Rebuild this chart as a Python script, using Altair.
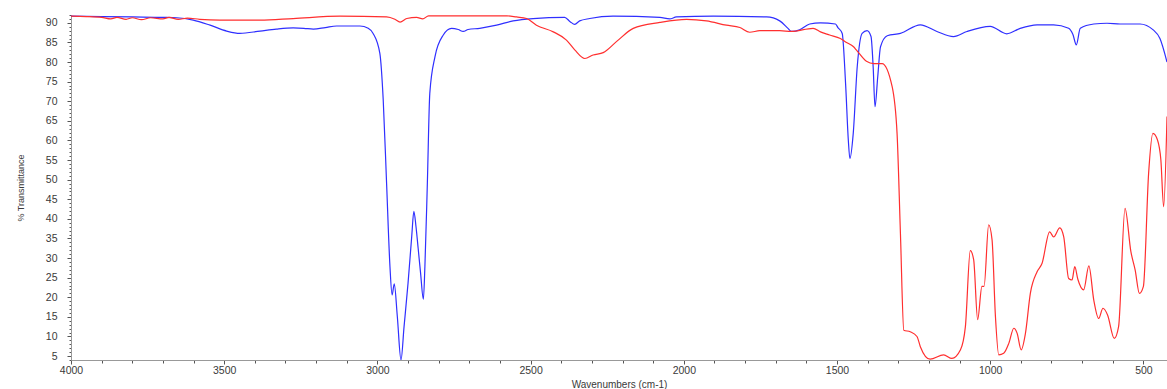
import altair as alt
import pandas as pd

# Blue spectrum (wavenumber cm-1, % transmittance)
blue_wn = [4000, 3900, 3800, 3700, 3655, 3601, 3546, 3492, 3449, 3383, 3330, 3275, 3240, 3209, 3170, 3133,
           3057, 3030, 3014, 2992, 2981, 2970, 2959, 2952, 2945, 2935, 2923, 2913, 2900, 2888, 2881, 2874,
           2867, 2859, 2850, 2845, 2837, 2829, 2812, 2785, 2758, 2736, 2720, 2704, 2666, 2611, 2557, 2492,
           2389, 2371, 2356, 2340, 2307, 2231, 2078, 2046, 2024, 1904, 1730, 1687, 1660, 1649, 1622, 1589,
           1554, 1505, 1497, 1483, 1472, 1463, 1458, 1447, 1434, 1418, 1402, 1389, 1382, 1376, 1367, 1358,
           1336, 1293, 1228, 1174, 1120, 1076, 1000, 946, 902, 847, 793, 744, 730, 719, 706, 662, 619, 576,
           511, 468, 446, 423]
blue_t = [91.7, 91.6, 91.5, 91.4, 91.3, 90.7, 89.4, 87.9, 87.3, 87.9, 88.4, 88.7, 88.6, 88.4, 88.8, 89.2,
          89.2, 88.6, 87.3, 82.2, 70.3, 49.0, 27.8, 20.6, 23.4, 15.1, 4.0, 12.5, 23.6, 35.5, 41.9, 38.0,
          32.5, 26.1, 19.5, 27.8, 49.0, 72.0, 81.4, 86.9, 88.6, 88.3, 87.8, 88.3, 88.6, 89.4, 90.5, 91.1,
          91.4, 90.3, 89.6, 90.5, 91.1, 91.7, 91.4, 91.0, 91.5, 91.7, 91.5, 90.5, 88.6, 87.8, 88.2, 89.7,
          90.0, 89.7, 88.8, 87.3, 74.5, 60.0, 55.4, 61.8, 78.8, 87.3, 88.0, 86.5, 78.8, 68.6, 76.3, 83.9,
          86.7, 87.3, 89.5, 87.8, 86.5, 87.8, 89.1, 87.2, 88.6, 89.5, 89.5, 88.6, 87.0, 84.4, 88.6, 89.7,
          89.9, 89.7, 89.7, 88.2, 86.0, 80.0]

# Red spectrum
red_wn = [4000, 3950, 3900, 3870, 3850, 3820, 3800, 3770, 3740, 3700, 3680, 3650, 3620, 3580, 3514, 3383,
          3275, 3122, 2970, 2943, 2926, 2904, 2872, 2852, 2833, 2578, 2546, 2513, 2481, 2426, 2383, 2356,
          2323, 2296, 2263, 2220, 2165, 2078, 1991, 1926, 1861, 1817, 1785, 1752, 1687, 1649, 1578, 1554,
          1524, 1489, 1469, 1446, 1437, 1404, 1380, 1353, 1320, 1304, 1293, 1282, 1261, 1239, 1228, 1196,
          1152, 1125, 1097, 1081, 1065, 1054, 1041, 1027, 1020, 1005, 994, 983, 972, 956, 939, 923, 912,
          899, 885, 869, 847, 831, 806, 793, 773, 760, 744, 733, 724, 714, 695, 678, 662, 646, 632, 617,
          595, 581, 560, 541, 527, 513, 500, 483, 469, 454, 443, 434, 423]
red_t = [91.7, 91.6, 91.4, 91.0, 91.4, 90.9, 91.3, 90.8, 91.3, 91.0, 91.4, 90.9, 91.2, 90.9, 90.7, 90.7,
         91.1, 91.7, 91.5, 90.9, 90.2, 91.1, 91.4, 91.0, 91.8, 91.8, 91.5, 91.1, 89.4, 87.7, 85.6, 83.1,
         80.9, 81.8, 82.4, 85.2, 88.6, 90.1, 90.9, 90.5, 89.4, 88.8, 87.6, 88.0, 88.0, 87.8, 88.6, 87.7,
         86.9, 86.0, 85.0, 83.9, 83.1, 80.2, 79.6, 79.6, 73.7, 61.8, 36.3, 11.6, 11.2, 10.0, 7.4, 4.2,
         5.3, 4.4, 6.6, 12.5, 31.9, 29.6, 14.3, 22.8, 22.8, 38.5, 34.7, 15.2, 5.3, 5.7, 8.3, 12.1, 10.8,
         6.6, 10.8, 21.0, 26.5, 28.6, 36.7, 35.4, 37.7, 35.4, 24.8, 24.4, 27.8, 24.6, 21.9, 28.0, 19.3, 14.6, 17.2, 15.5,
         9.5, 12.5, 42.7, 31.7, 27.0, 21.0, 22.8, 51.6, 61.8, 60.1, 55.0, 43.1, 66.1]

x_ticks = list(range(500, 4001, 100))
y_ticks = list(range(4, 93, 1))

blue_df = pd.DataFrame({"wn": blue_wn, "t": blue_t})
red_df = pd.DataFrame({"wn": red_wn, "t": red_t})

label_color = "#3a3a3a"

x_enc = alt.X(
    "wn:Q",
    scale=alt.Scale(domain=[423, 4000], reverse=True, nice=False, zero=False),
    axis=alt.Axis(
        title="Wavenumbers (cm-1)",
        values=x_ticks,
        format="d",
        labelExpr="datum.value % 500 == 0 ? datum.label : ''",
        tickSize={"condition": {"test": "datum.value % 500 == 0", "value": 4}, "value": 3},
        labelPadding=1,
        titlePadding=4,
        labelFlush=False,
        labelFont="Liberation Sans",
        titleFont="Liberation Sans",
        labelFontSize=10.5,
        titleFontSize=10,
        titleFontWeight="normal",
        labelColor=label_color,
        titleColor=label_color,
        domainColor="#999999",
        tickColor="#555555",
        grid=False,
        labelOverlap=False,
    ),
)
y_enc = alt.Y(
    "t:Q",
    scale=alt.Scale(domain=[4, 92], nice=False, zero=False),
    axis=alt.Axis(
        title="% Transmittance",
        values=y_ticks,
        format="d",
        labelExpr="datum.value % 5 == 0 ? datum.label : ''",
        tickSize={"condition": {"test": "datum.value % 5 == 0", "value": 4}, "value": 2},
        labelPadding=10,
        titlePadding=20,
        labelFlush=False,
        labelFont="Liberation Sans",
        titleFont="Liberation Sans",
        labelFontSize=10.5,
        titleFontSize=9,
        titleFontWeight="normal",
        labelColor=label_color,
        titleColor=label_color,
        domainColor="#999999",
        tickColor="#555555",
        grid=False,
        labelOverlap=False,
    ),
)

blue = alt.Chart(blue_df).mark_line(color="#2f2fff", strokeWidth=1.2, clip=True,
                                    interpolate="monotone").encode(x=x_enc, y=y_enc)
red = alt.Chart(red_df).mark_line(color="#ff2f2f", strokeWidth=1.2, clip=True,
                                  interpolate="monotone").encode(x=x_enc, y=y_enc)

chart = alt.layer(blue, red).properties(
    width=1096,
    height=345,
    background="white",
    autosize=alt.AutoSizeParams(type="none"),
    padding={"left": 71, "top": 15, "right": 0, "bottom": 29},
).configure_view(stroke=None)

chart.save("out.html", embed_options={"renderer": "svg", "actions": False})
